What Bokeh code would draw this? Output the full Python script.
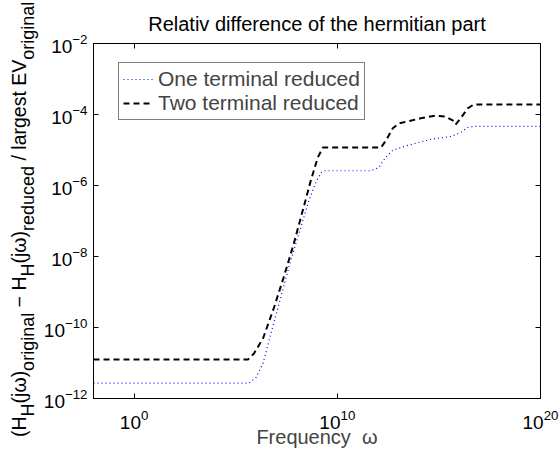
from bokeh.plotting import figure
from bokeh.layouts import row
from bokeh.models import LogAxis, FixedTicker, Range1d, CustomJSTickFormatter, Div
from bokeh.embed import file_html
from bokeh.resources import INLINE

# ---- data ----
omega_one = [1e-2, 4.5e5, 1.0e6, 2.2e6, 5.4e6, 1.66e7, 5.1e7, 1.6e8, 4.0e8, 8.7e8,
             1.55e9, 2.5e9, 4.5e11, 1.1e12, 2.4e12, 5.4e12, 2.9e13, 3.9e14, 3.8e15,
             1.17e16, 2.6e16, 5.1e16, 1e20]
diff_one = [2.7e-12, 2.7e-12, 3.9e-12, 9.8e-12, 6.8e-11, 7.1e-10, 7.8e-9, 6.6e-8, 3.8e-7,
            1.2e-6, 2.3e-6, 2.6e-6, 2.6e-6, 3.2e-6, 6.2e-6, 9.8e-6, 1.35e-5, 2.0e-5,
            2.4e-5, 3.1e-5, 4.3e-5, 4.6e-5, 4.6e-5]

omega_two = [1e-2, 4.0e5, 7.9e5, 2.2e6, 7.6e6, 2.3e7, 7.2e7, 2.0e8, 5.0e8, 1.1e9,
             1.95e9, 1.4e12, 2.5e12, 5.4e12, 1.05e13, 1.26e14, 7e14, 2.1e15, 4.8e15,
             6.6e15, 1.17e16, 2.6e16, 5.1e16, 1e20]
diff_two = [1.26e-11, 1.26e-11, 1.86e-11, 4.9e-11, 3.6e-10, 2.6e-9, 2.3e-8, 2.0e-7, 1.4e-6,
            6.2e-6, 1.17e-5, 1.17e-5, 1.86e-5, 4.1e-5, 5.6e-5, 7.8e-5, 9.3e-5, 8.7e-5,
            6.8e-5, 5.2e-5, 7.8e-5, 1.48e-4, 1.9e-4, 1.9e-4]

x_ticks = [1e0, 1e10, 1e20]
y_ticks = [1e-12, 1e-10, 1e-8, 1e-6, 1e-4, 1e-2]

series_names = ["One terminal reduced", "Two terminal reduced"]
title_text = "Relativ difference of the hermitian part"
x_label = "Frequency\u00a0\u00a0ω"
# y label pieces: (text, is_subscript)
y_label_parts = [("(H", False), ("H", True), ("(jω)", False), ("original", True),
                 (" − H", False), ("H", True), ("(jω)", False), ("reduced", True),
                 (" / largest EV", False), ("original", True)]

FONT = "Liberation Sans"
LABEL_W = 40

# ---- main plot ----
p = figure(width=560 - LABEL_W, height=450, x_axis_type="log", y_axis_type="log",
           x_range=Range1d(1e-2, 1e20), y_range=Range1d(1e-12, 1e-2),
           output_backend="svg", toolbar_location=None,
           min_border_left=92 - LABEL_W, min_border_right=20,
           min_border_top=43, min_border_bottom=52)

p.title.text = title_text
p.title.align = "center"
p.title.text_font = FONT
p.title.text_font_size = "20px"
p.title.text_font_style = "normal"
p.title.text_color = "black"
p.title.standoff = 17

p.grid.visible = False
p.outline_line_color = "black"
p.background_fill_color = "white"
p.border_fill_color = "white"

for ax in (p.xaxis[0], p.yaxis[0]):
    ax.major_tick_in = 5
    ax.major_tick_out = 0
    ax.minor_tick_line_color = None
    ax.axis_line_color = "black"
    ax.major_tick_line_color = "black"
    ax.major_label_text_font = FONT
    ax.major_label_text_font_size = "19px"
    ax.major_label_text_color = "black"

p.xaxis[0].ticker = FixedTicker(ticks=x_ticks)
p.yaxis[0].ticker = FixedTicker(ticks=y_ticks)
p.xaxis[0].axis_label = x_label
p.xaxis[0].axis_label_text_font = FONT
p.xaxis[0].axis_label_text_font_size = "20px"
p.xaxis[0].axis_label_text_font_style = "normal"
p.xaxis[0].axis_label_standoff = -6
p.xaxis[0].major_label_standoff = 11
p.yaxis[0].major_label_standoff = 6

# mirrored ticks on top and right (no labels)
blank = CustomJSTickFormatter(code="return ''")
top = LogAxis(ticker=FixedTicker(ticks=x_ticks), major_tick_in=5, major_tick_out=0,
              minor_tick_line_color=None, formatter=blank,
              major_label_standoff=0, axis_line_color="black")
right = LogAxis(ticker=FixedTicker(ticks=y_ticks), major_tick_in=5, major_tick_out=0,
                minor_tick_line_color=None, formatter=blank,
                major_label_standoff=0, axis_line_color="black")
p.add_layout(top, "above")
p.add_layout(right, "right")

p.line(omega_one, diff_one, line_color="#0000ff", line_width=1.2, line_dash="1 3",
       legend_label=series_names[0])
p.line(omega_two, diff_two, line_color="black", line_width=2, line_dash="6 4",
       legend_label=series_names[1])

lg = p.legend[0]
lg.location = (25, 278)
lg.label_text_font = FONT
lg.label_text_font_size = "21px"
lg.border_line_color = "black"
lg.border_line_width = 1
lg.background_fill_color = "white"
lg.background_fill_alpha = 1
lg.glyph_width = 30
lg.label_standoff = 5
lg.padding = 4
lg.spacing = 0
lg.label_height = 24
lg.glyph_height = 24
lg.margin = 0

# ---- y-axis label strip: rotated HTML text with real subscripts ----
MAIN, SUB = 19.5, 18
pieces = []
for text, sub in y_label_parts:
    t = text.replace(" ", "&nbsp;") if text.startswith(" ") else text
    if sub:
        pieces.append(f'<span style="font-size:{SUB}px;vertical-align:-8px;">{t}</span>')
    else:
        pieces.append(f'<span>{t}</span>')
label_html = (
    f'<div style="position:relative;width:{LABEL_W}px;height:450px;overflow:visible;">'
    f'<div style="position:absolute;left:9px;top:437px;transform-origin:0 0;'
    f'transform:rotate(-90deg);white-space:nowrap;font-family:\'{FONT}\';'
    f'font-size:{MAIN}px;line-height:20px;color:black;">'
    + "".join(pieces) + "</div></div>"
)
ylab = Div(text=label_html, width=LABEL_W, height=450, margin=0)

layout = row(ylab, p)
open("out.html", "w").write(file_html(layout, INLINE))
